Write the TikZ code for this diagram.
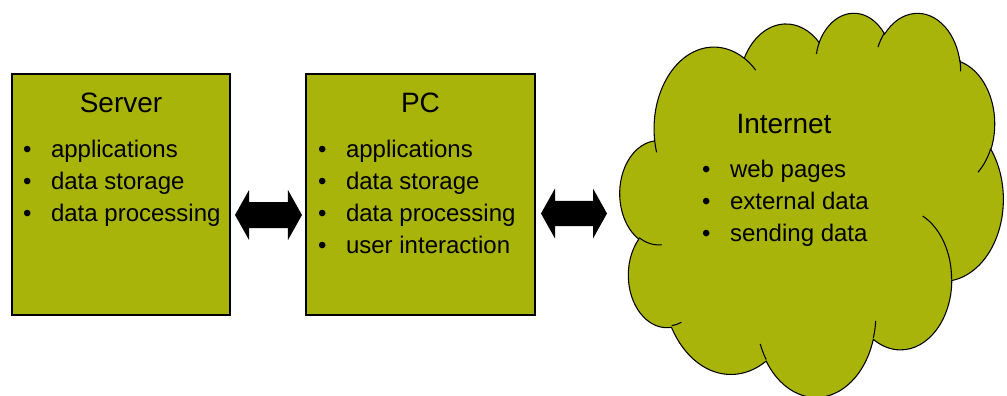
\documentclass[tikz,border=0pt]{standalone}
\usepackage{fontspec}
\setmainfont{Liberation Sans}
\definecolor{olive}{RGB}{168,180,10}
\tikzset{
  oo arc/.code n args={4}{%
    \pgfmathsetmacro\ooa{#3}%
    \pgfmathsetmacro\oob{#3+#4}%
    \pgfmathsetmacro\oots{atan2(#1*sin(\ooa),#2*cos(\ooa))}%
    \pgfmathsetmacro\oote{atan2(#1*sin(\oob),#2*cos(\oob))}%
    \pgfmathsetmacro\oodt{mod(\oote-\oots+720,360)}%
    \pgfkeysalso{x radius=#1,y radius=#2,start angle=\oots,delta angle=\oodt}%
  },
  box/.style={draw=black, line width=0.8pt, fill=olive, inner sep=0pt},
  title/.style={font=\fontsize{21}{24}\selectfont, anchor=base, inner sep=0pt},
  item/.style={font=\fontsize{18}{24}\selectfont, anchor=base west, inner sep=0pt},
  blockarrow/.style={fill=black},
}
\newcommand\bul{\makebox[21pt][l]{\textbullet}}
\begin{document}
\begin{tikzpicture}[x=0.75pt, y=-0.75pt]
\useasboundingbox (0,0) rectangle (1007,396);
% boxes
\node[box, minimum width=163.5pt, minimum height=180.75pt] (server) at (121,194.5) {};
\node[box, minimum width=171.75pt, minimum height=180.75pt] (pc) at (420.5,194.5) {};
% cloud
\begin{scope}[shift={(620,12)}, x=0.0066493pt, y=-0.0066667pt]
\draw[line width=0.8pt, fill=olive] (3900,14370)
  arc[oo arc={6753}{9190}{-190.4875}{123.7805}]
  arc[oo arc={5333}{7267}{-144.1024}{89.9452}]
  arc[oo arc={4365}{5945}{-145.8079}{99.7230}]
  arc[oo arc={4857}{6595}{-130.9861}{117.2417}]
  arc[oo arc={5333}{7273}{-78.7089}{109.0269}]
  arc[oo arc={6775}{9220}{-46.2673}{130.2690}]
  arc[oo arc={5785}{7867}{0.6250}{114.0333}]
  arc[oo arc={6752}{9215}{22.4516}{115.1726}]
  arc[oo arc={7720}{10543}{66.2426}{75.7110}]
  arc[oo arc={4360}{5918}{-274.9421}{146.7356}]
  arc[oo arc={4345}{5945}{-246.8285}{152.5189}]
  -- cycle;
\draw[line width=0.8pt]
  (4693,26177) arc[oo arc={4345}{5945}{86.7420}{26.4295}]
  (6928,34899) arc[oo arc={4360}{5918}{73.6105}{11.4475}]
  (16478,39090) arc[oo arc={6752}{9215}{137.6242}{14.0811}]
  (28827,34751) arc[oo arc={6752}{9215}{6.4533}{15.9984}]
  (34129,22954) arc[oo arc={5785}{7867}{-70.2924}{70.9174}]
  (41798,15354) arc[oo arc={5333}{7273}{30.3180}{27.7515}]
  (38324,5426) arc[oo arc={4857}{6595}{-13.7443}{14.8589}]
  (29078,3952) arc[oo arc={4857}{6595}{-149.1815}{18.1954}]
  (22141,4720) arc[oo arc={4365}{5945}{-163.4943}{17.6864}]
  (14000,5192) arc[oo arc={6753}{9190}{-66.7070}{12.3194}]
  (4127,15789) arc[oo arc={6753}{9190}{157.6544}{11.8582}];
\end{scope}
\coordinate (cloud) at (811,204);
% block arrows
\coordinate (a1) at (268.5,215);
\fill[blockarrow] ([xshift=-25.1pt]a1) -- ([xshift=-14.6pt,yshift=18.75pt]a1) -- ([xshift=-14.6pt,yshift=9.75pt]a1)
  -- ([xshift=14.6pt,yshift=9.75pt]a1) -- ([xshift=14.6pt,yshift=18.75pt]a1) -- ([xshift=25.1pt]a1)
  -- ([xshift=14.6pt,yshift=-18.75pt]a1) -- ([xshift=14.6pt,yshift=-9.75pt]a1)
  -- ([xshift=-14.6pt,yshift=-9.75pt]a1) -- ([xshift=-14.6pt,yshift=-18.75pt]a1) -- cycle;
\coordinate (a2) at (574,213.5);
\fill[blockarrow] ([xshift=-24.75pt]a2) -- ([xshift=-14.25pt,yshift=18.75pt]a2) -- ([xshift=-14.25pt,yshift=9.5pt]a2)
  -- ([xshift=14.25pt,yshift=9.5pt]a2) -- ([xshift=14.25pt,yshift=18.75pt]a2) -- ([xshift=24.75pt]a2)
  -- ([xshift=14.25pt,yshift=-18.75pt]a2) -- ([xshift=14.25pt,yshift=-9.5pt]a2)
  -- ([xshift=-14.25pt,yshift=-9.5pt]a2) -- ([xshift=-14.25pt,yshift=-18.75pt]a2) -- cycle;
% texts
\node[title] (servert) at (121,112) {Server};
\node[title] (pct) at (420.5,112) {PC};
\node[title] (nett) at (784,133) {Internet};
\foreach \t [count=\i] in {applications, data storage, data processing}
  \node[item] (s\i) at (22.8,125+32*\i) {\bul\t};
\foreach \t [count=\i] in {applications, data storage, data processing, user interaction}
  \node[item] (p\i) at (317.8,125+32*\i) {\bul\t};
\foreach \t [count=\i] in {web pages, external data, sending data}
  \node[item] (n\i) at (701.8,145+32*\i) {\bul\t};
\end{tikzpicture}
\end{document}
